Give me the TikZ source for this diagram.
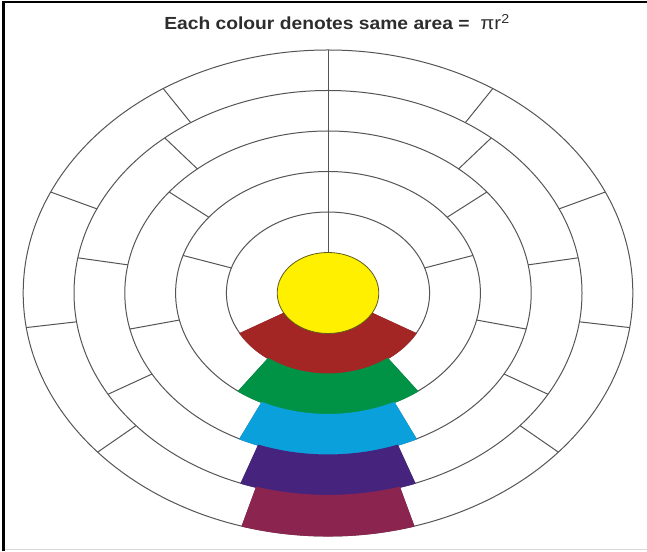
\documentclass[tikz,border=0pt]{standalone}
\usepackage{fontspec}
\setmainfont{Liberation Sans}
\definecolor{cyel}{RGB}{255,240,0}
\definecolor{cyeldraw}{RGB}{95,90,30}
\definecolor{cred}{RGB}{163,38,36}
\definecolor{cgreen}{RGB}{0,146,69}
\definecolor{cblue}{RGB}{10,160,220}
\definecolor{cpurple}{RGB}{70,36,125}
\definecolor{cmaroon}{RGB}{140,36,80}
\definecolor{cline}{RGB}{85,85,85}
\definecolor{ctitle}{RGB}{45,45,45}
\begin{document}
\begin{tikzpicture}[x=1pt,y=1pt,
  ring/.style={draw=cline, line width=1pt},
  framebar/.style={draw=black, line width=2.5pt},
  titlefont/.style={font=\bfseries\fontsize{17.5}{19}\selectfont, text=ctitle}]
\useasboundingbox (0,0) rectangle (647,551);
\fill[white] (0,0) rectangle (647,551);
% frame
\draw[framebar] (3.5,0) -- (3.5,549.3);
\draw[framebar, line width=2pt] (2.3,549.3) -- (647,549.3);
\draw[black!15, line width=1.5pt] (5,1.5) -- (647,1.5);
% title
\node[titlefont, anchor=base, xscale=1.1] (title) at (337,521) {Each colour denotes same area =\ \ {\mdseries\fontsize{18.5}{19}\selectfont πr\textsuperscript{2}}};
\begin{scope}[shift={(328,258)}, xscale=50.8, yscale=40.5]
  % rings
  \foreach \k in {2,...,6} \draw[ring] (0,0) circle (\k);
  % dividers
  \foreach \k in {1,...,5} {
    \pgfmathtruncatemacro\m{2*\k}
    \pgfmathtruncatemacro\kk{\k+1}
    \pgfmathsetmacro\n{2*\k+1}
    \foreach \j in {0,...,\m} {
      \pgfmathsetmacro\a{270+180/\n+\j*360/\n}
      \draw[ring] (\a:\k) -- (\a:\kk);
    }
  }
  % coloured sectors
  \foreach \k/\c in {1/cred,2/cgreen,3/cblue,4/cpurple,5/cmaroon} {
    \pgfmathsetmacro\h{180/(2*\k+1)}
    \pgfmathsetmacro\aa{270-\h}
    \pgfmathsetmacro\bb{270+\h}
    \pgfmathtruncatemacro\kk{\k+1}
    \filldraw[fill=\c, draw=\c, line width=1.1pt] (\aa:\k) arc[start angle=\aa, end angle=\bb, radius=\k]
      -- (\bb:\kk) arc[start angle=\bb, end angle=\aa, radius=\kk] -- cycle;
  }
  % centre disc
  \filldraw[fill=cyel, draw=cyeldraw, line width=0.8pt] (0,0) circle (1);
\end{scope}
\end{tikzpicture}
\end{document}
